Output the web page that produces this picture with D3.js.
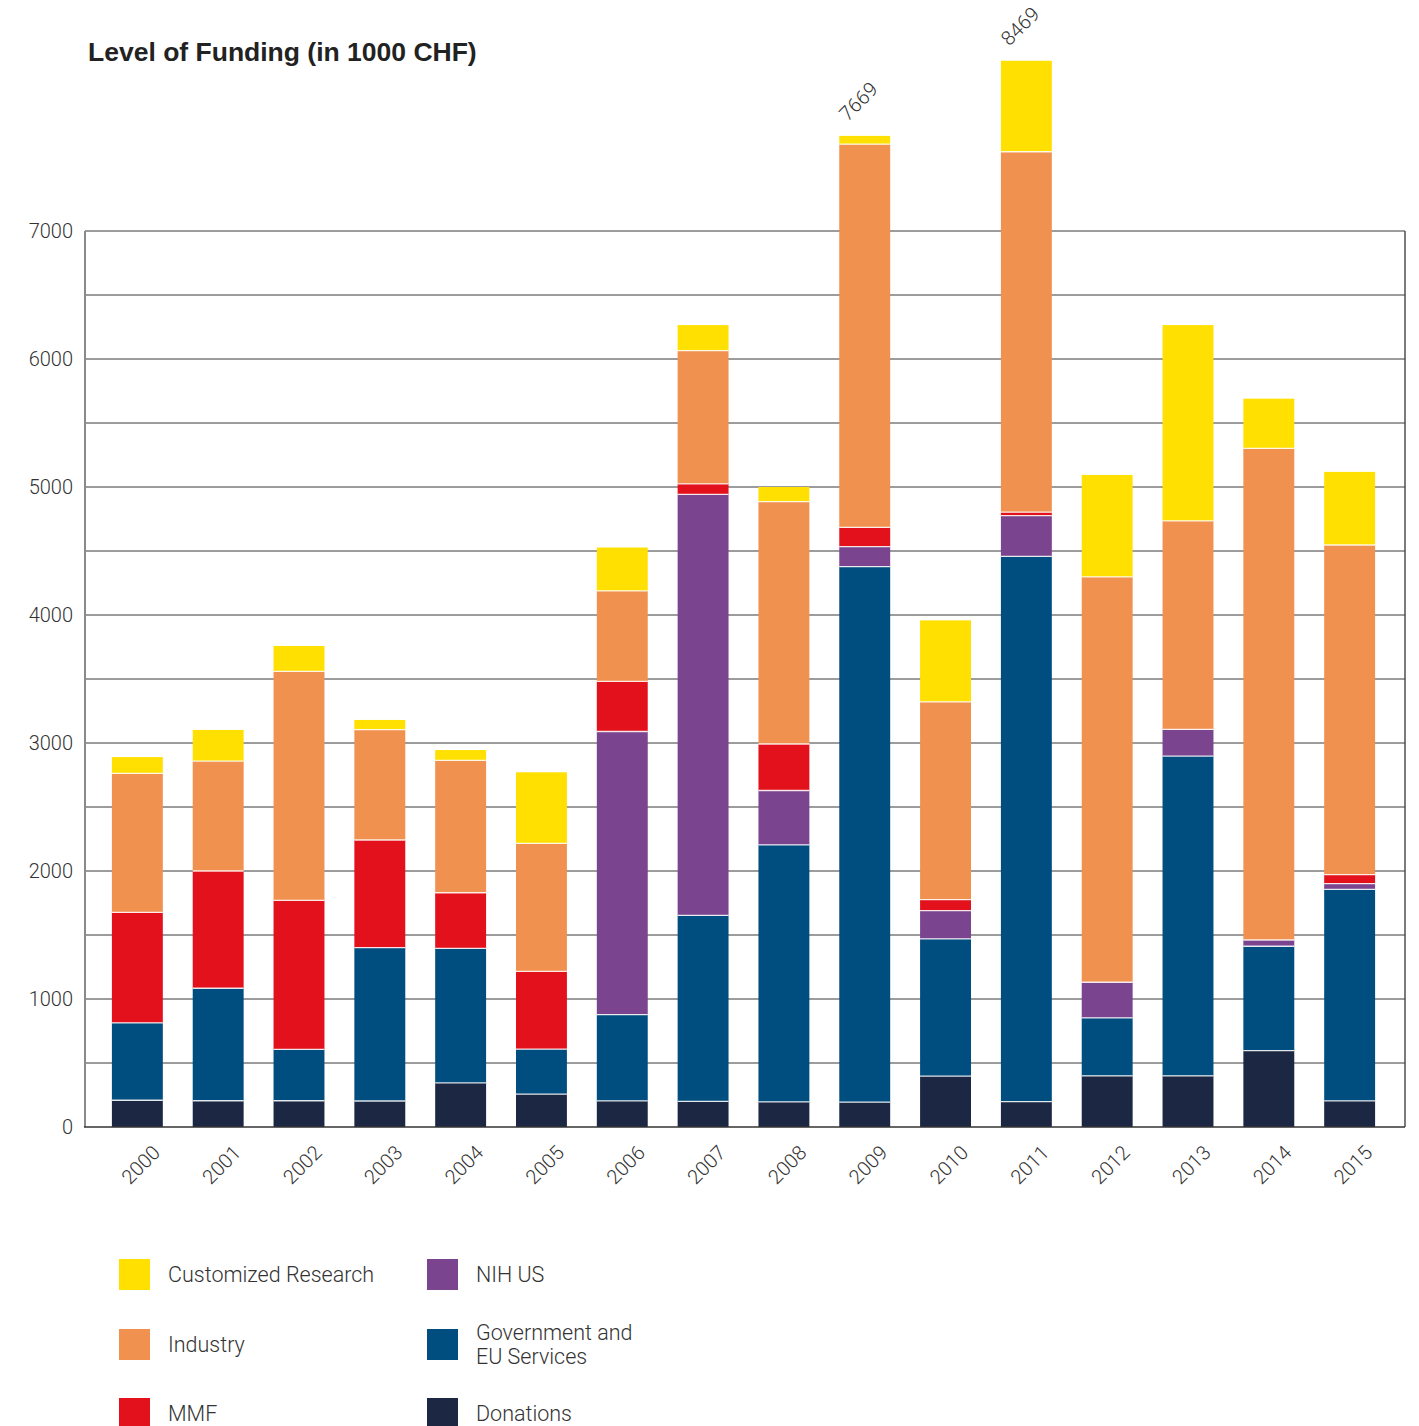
<!DOCTYPE html>
<html>
<head>
<meta charset="utf-8">
<script src="https://cdn.jsdelivr.net/npm/d3@7"></script>
<style>
  html, body { margin: 0; padding: 0; background: #fff; }
  svg { display: block; }
  .light { font-family: Roboto, "Liberation Sans", Arial, sans-serif; font-weight: 300; fill: #333; }
</style>
</head>
<body>
<svg id="chart" width="1419" height="1426"></svg>
<script>
// ---- data (in 1000 CHF) ----
const years = ["2000","2001","2002","2003","2004","2005","2006","2007","2008","2009","2010","2011","2012","2013","2014","2015"];
const donations  = [209, 205, 205, 203, 344, 257, 204, 200, 196, 194, 398, 199, 400, 400, 596, 204];
const government = [605, 879, 402, 1198, 1052, 351, 674, 1453, 2008, 4184, 1072, 4259, 453, 2498, 816, 1653];
const nihUS      = [0, 0, 0, 0, 0, 0, 2212, 3290, 425, 156, 221, 318, 278, 208, 49, 45];
const mmf        = [862, 916, 1164, 841, 434, 608, 392, 81, 363, 150, 86, 27, 0, 0, 0, 69];
const industry   = [1086, 859, 1789, 862, 1035, 1000, 706, 1041, 1894, 2994, 1545, 2816, 3167, 1629, 3841, 2576];
const customized = [128, 243, 198, 76, 80, 555, 339, 200, 114, 65, 636, 711, 796, 1530, 388, 571];

const seriesKeys   = ["Donations", "Government and EU Services", "NIH US", "MMF", "Industry", "Customized Research"];
const seriesValues = [donations, government, nihUS, mmf, industry, customized];
const seriesColors = ["#1c2843", "#004e7f", "#7a448e", "#e2111b", "#f0914f", "#ffe000"];

const yTicks = [0, 1000, 2000, 3000, 4000, 5000, 6000, 7000];
const gridValues = [500, 1000, 1500, 2000, 2500, 3000, 3500, 4000, 4500, 5000, 5500, 6000, 6500, 7000];

const totalLabelYears  = ["2009", "2011"];
const totalLabelValues = ["7669", "8469"];

const legendOrder = ["Customized Research", "NIH US", "Industry", "Government and EU Services", "MMF", "Donations"];

// ---- build table ----
const table = years.map((y, i) => {
  const row = { year: y };
  seriesKeys.forEach((k, j) => row[k] = seriesValues[j][i]);
  return row;
});
const stacked = d3.stack().keys(seriesKeys)(table);
const color = d3.scaleOrdinal().domain(seriesKeys).range(seriesColors);

// ---- scales ----
const x = d3.scaleBand().domain(years).range([82, 1405]).paddingInner(0.37).paddingOuter(0.37);
const y = d3.scaleLinear().domain([0, 7000]).range([1127, 231]);

const svg = d3.select("#chart");
const lightFont = "Roboto, 'Liberation Sans', Arial, sans-serif";

// title
svg.append("text")
  .attr("x", 88).attr("y", 61)
  .attr("font-family", "'Liberation Sans', Arial, sans-serif")
  .attr("font-weight", "bold").attr("font-size", 26.5)
  .attr("fill", "#222")
  .text("Level of Funding (in 1000 CHF)");

// gridlines
svg.append("g").selectAll("line").data(gridValues).join("line")
  .attr("x1", 85).attr("x2", 1405)
  .attr("y1", d => y(d)).attr("y2", d => y(d))
  .attr("stroke", "#3a3a3a").attr("stroke-width", 1.1);

// right border
svg.append("line").attr("x1", 1405).attr("x2", 1405).attr("y1", y(7000)).attr("y2", y(0))
  .attr("stroke", "#444").attr("stroke-width", 1.4);

// y axis labels
const yAxis = svg.append("g").attr("transform", "translate(85,0)")
  .call(d3.axisLeft(y).tickValues(yTicks).tickSize(0).tickPadding(12).tickFormat(d3.format("d")));
yAxis.select(".domain").remove();
yAxis.selectAll("text").attr("font-size", 20).attr("fill", "#333")
  .style("font-family", lightFont).style("font-weight", 300);

// bars
const layers = svg.append("g").selectAll("g").data(stacked).join("g")
  .attr("fill", d => color(d.key));
layers.selectAll("rect").data(d => d).join("rect")
  .attr("x", d => x(d.data.year))
  .attr("width", x.bandwidth())
  .attr("y", d => y(d[1]))
  .attr("height", d => Math.max(0, y(d[0]) - y(d[1])));

// white separators between segments
svg.append("g").selectAll("g").data(stacked.slice(0, stacked.length - 1)).join("g")
  .selectAll("line").data(d => d.filter(s => s[1] > s[0])).join("line")
  .attr("x1", d => x(d.data.year)).attr("x2", d => x(d.data.year) + x.bandwidth())
  .attr("y1", d => y(d[1])).attr("y2", d => y(d[1]))
  .attr("stroke", "#fff").attr("stroke-opacity", 0.85).attr("stroke-width", 1.3);

// left axis line & bottom axis
svg.append("line").attr("x1", 85).attr("x2", 85).attr("y1", y(7000)).attr("y2", y(0))
  .attr("stroke", "#8a8a8a").attr("stroke-width", 2);
svg.append("line").attr("x1", 84).attr("x2", 1405).attr("y1", y(0)).attr("y2", y(0))
  .attr("stroke", "#333").attr("stroke-width", 1.4);

// x axis labels
const xAxis = svg.append("g").attr("transform", `translate(0,${y(0)})`)
  .call(d3.axisBottom(x).tickSize(0).tickPadding(0));
xAxis.select(".domain").remove();
xAxis.selectAll("text")
  .attr("font-size", 20)
  .style("font-family", lightFont).style("font-weight", 300)
  .attr("fill", "#333")
  .attr("text-anchor", "end")
  .attr("dy", null).attr("y", null)
  .attr("transform", "translate(24,27) rotate(-45)");

// total labels above the tallest bars
const topOf = yr => d3.sum(seriesValues, arr => arr[years.indexOf(yr)]);
svg.append("g").selectAll("text").data(totalLabelYears).join("text")
  .attr("class", "light")
  .attr("font-size", 20)
  .attr("text-anchor", "start")
  .attr("transform", (d) => `translate(${x(d) + x.bandwidth() / 2 - 17},${y(topOf(d)) - 14}) rotate(-45)`)
  .text((d, i) => totalLabelValues[i]);

// legend
const legendPos = [
  { x: 119, y: 1259 }, { x: 427, y: 1259 },
  { x: 119, y: 1329 }, { x: 427, y: 1329 },
  { x: 119, y: 1398 }, { x: 427, y: 1398 }
];
const leg = svg.append("g").selectAll("g").data(legendOrder).join("g")
  .attr("transform", (d, i) => `translate(${legendPos[i].x},${legendPos[i].y})`);
leg.append("rect").attr("width", 31).attr("height", 31).attr("fill", d => color(d));
leg.each(function(d) {
  const g = d3.select(this);
  const lines = d === "Government and EU Services" ? ["Government and", "EU Services"] : [d];
  const t = g.append("text").attr("class", "light").attr("font-size", 21.5).attr("x", 49);
  if (lines.length === 1) {
    t.attr("y", 23).text(lines[0]);
  } else {
    t.selectAll("tspan").data(lines).join("tspan")
      .attr("x", 49).attr("y", (l, k) => 11 + k * 24).text(l => l);
  }
});
</script>
</body>
</html>
